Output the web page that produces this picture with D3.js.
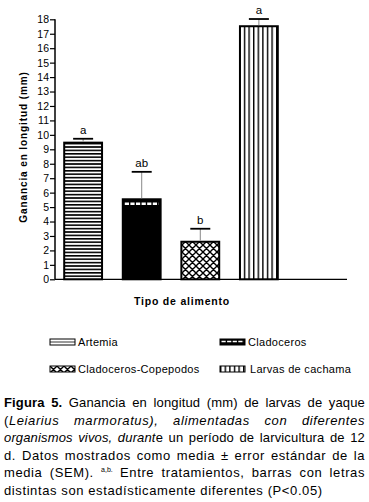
<!DOCTYPE html>
<html>
<head>
<meta charset="utf-8">
<script src="https://cdn.jsdelivr.net/npm/d3@7"></script>
<style>
  body { margin: 0; background: #fff; }
  #wrap { position: relative; width: 369px; height: 502px; overflow: hidden; }
  .cap { position: absolute; left: 4px; width: 361px; font-family: "Liberation Sans", Arial, sans-serif;
         font-size: 13px; letter-spacing: 0.6px; line-height: 17.5px; color: #000; text-align: justify; text-align-last: justify; white-space: nowrap; }
  .cap.last { text-align-last: left; }
  .cap.tight { letter-spacing: 0.15px; }
  .cap sup { font-size: 7px; letter-spacing: 0; vertical-align: 5px; line-height: 0; }
</style>
</head>
<body>
<div id="wrap"><svg id="chart"></svg></div>
<script>
(() => {

  const categories = ['Artemia', 'Cladoceros', 'Cladoceros-Copepodos', 'Larvas de cachama'];
  const means = [9.46, 5.54, 2.60, 17.52];
  const sem = [0.27, 1.9, 0.9, 0.5];
  const letters = ['a', 'ab', 'b', 'a'];
  const yTicks = d3.range(0, 19, 1);

  const svgWidth = 369;
  const svgHeight = 502;
  const font = '"Liberation Sans", Arial, sans-serif';

  const svg = d3.select('#chart')
    .attr('width', svgWidth)
    .attr('height', svgHeight)
    .style('position', 'absolute')
    .style('left', 0).style('top', 0);

  const defs = svg.append('defs');

  // horizontal lines (Artemia)
  const p0 = defs.append('pattern').attr('id', 'pat0')
    .attr('patternUnits', 'userSpaceOnUse').attr('width', 6).attr('height', 3.4);
  p0.append('rect').attr('width', 6).attr('height', 3.4).attr('fill', '#fff');
  p0.append('rect').attr('y', 0).attr('width', 6).attr('height', 1.6).attr('fill', '#000');

  // crosshatch (Cladoceros-Copepodos)
  const p2 = defs.append('pattern').attr('id', 'pat2')
    .attr('patternUnits', 'userSpaceOnUse').attr('width', 7).attr('height', 7);
  p2.append('rect').attr('width', 7).attr('height', 7).attr('fill', '#fff');
  p2.append('path').attr('d', 'M-1,-1L8,8M-1,8L8,-1M-4.5,2.5L2.5,-4.5M4.5,11.5L11.5,4.5M-4.5,4.5L2.5,11.5M4.5,-4.5L11.5,2.5')
    .attr('stroke', '#000').attr('stroke-width', 1.4);

  // vertical lines (Larvas de cachama)
  const p3 = defs.append('pattern').attr('id', 'pat3')
    .attr('patternUnits', 'userSpaceOnUse').attr('width', 4.6).attr('height', 6);
  p3.append('rect').attr('width', 4.6).attr('height', 6).attr('fill', '#fff');
  p3.append('rect').attr('x', 0).attr('width', 1.4).attr('height', 6).attr('fill', '#000');

  const fills = ['url(#pat0)', '#000', 'url(#pat2)', 'url(#pat3)'];

  const xScale = d3.scaleBand()
    .domain(categories)
    .range([55, 287])
    .paddingInner(0.32)
    .paddingOuter(0.14)
    .align(0.5);

  const yScale = d3.scaleLinear()
    .domain([0, 18])
    .range([279.3, 19.3]);

  // y axis
  const yAxis = svg.append('g')
    .attr('transform', 'translate(55,0)')
    .call(d3.axisLeft(yScale).tickValues(yTicks).tickSize(5).tickPadding(1).tickFormat(d3.format('d')));
  yAxis.select('.domain').attr('stroke-width', 1.5).attr('d', `M0,${yScale(18)}V${yScale(0)}`);
  yAxis.selectAll('.tick line').attr('stroke-width', 1.2);
  yAxis.selectAll('.tick text')
    .style('font-family', font).style('font-size', '10.5px').attr('fill', '#000');

  // x axis line
  svg.append('line')
    .attr('x1', 55).attr('x2', 347)
    .attr('y1', yScale(0)).attr('y2', yScale(0))
    .attr('stroke', '#000').attr('stroke-width', 1.2);

  // bars
  svg.selectAll('rect.bar')
    .data(categories)
    .enter()
    .append('rect')
    .attr('class', 'bar')
    .attr('x', d => xScale(d) + 1)
    .attr('width', xScale.bandwidth() - 2)
    .attr('y', (d, i) => yScale(means[i]))
    .attr('height', (d, i) => yScale(0) - yScale(means[i]))
    .attr('fill', (d, i) => fills[i])
    .attr('stroke', '#000')
    .attr('stroke-width', 2);

  // dotted white band under the top of the Cladoceros bar
  svg.append('line')
    .attr('x1', xScale(categories[1]) + 3)
    .attr('x2', xScale(categories[1]) + xScale.bandwidth() - 3)
    .attr('y1', yScale(means[1]) + 4.5)
    .attr('y2', yScale(means[1]) + 4.5)
    .attr('stroke', '#fff').attr('stroke-width', 2.6)
    .attr('stroke-dasharray', '4.2,1.4');

  // error bars (upper only)
  const cx = d => xScale(d) + xScale.bandwidth() / 2;
  svg.selectAll('line.stem')
    .data(categories)
    .enter()
    .append('line')
    .attr('x1', cx).attr('x2', cx)
    .attr('y1', (d, i) => yScale(means[i]) - 1)
    .attr('y2', (d, i) => yScale(means[i] + sem[i]))
    .attr('stroke', '#888').attr('stroke-width', 1);

  svg.selectAll('line.cap')
    .data(categories)
    .enter()
    .append('line')
    .attr('x1', d => cx(d) - 10).attr('x2', d => cx(d) + 10)
    .attr('y1', (d, i) => yScale(means[i] + sem[i]))
    .attr('y2', (d, i) => yScale(means[i] + sem[i]))
    .attr('stroke', '#000').attr('stroke-width', 1.8);

  svg.selectAll('text.letter')
    .data(categories)
    .enter()
    .append('text')
    .text((d, i) => letters[i])
    .attr('x', cx)
    .attr('y', (d, i) => yScale(means[i] + sem[i]) - 5)
    .attr('text-anchor', 'middle')
    .style('font-family', font).style('font-size', '11.5px');

  // axis titles
  svg.append('text')
    .text('Ganancia en longitud (mm)')
    .attr('transform', 'translate(27,147) rotate(-90)')
    .attr('text-anchor', 'middle')
    .style('font-family', font).style('font-size', '10px').style('font-weight', 'bold')
    .style('letter-spacing', '0.9px');

  svg.append('text')
    .text('Tipo de alimento')
    .attr('x', 182).attr('y', 305)
    .attr('text-anchor', 'middle')
    .style('font-family', font).style('font-size', '10.5px').style('font-weight', 'bold')
    .style('letter-spacing', '0.8px');

  // legend
  const legendX = [50, 220, 50, 220];
  const legendY = [339, 339, 366, 366];
  const legend = svg.selectAll('g.legend')
    .data(categories)
    .enter()
    .append('g')
    .attr('transform', (d, i) => `translate(${legendX[i]},${legendY[i]})`);

  legend.append('rect')
    .attr('width', 25).attr('height', 6)
    .attr('fill', (d, i) => i === 0 ? '#fff' : fills[i])
    .attr('stroke', '#000').attr('stroke-width', 1);
  legend.filter((d, i) => i === 0).append('line')
    .attr('x1', 0).attr('x2', 25).attr('y1', 3).attr('y2', 3)
    .attr('stroke', '#000').attr('stroke-width', 0.8);
  legend.filter((d, i) => i === 1).append('line')
    .attr('x1', 1.5).attr('x2', 24).attr('y1', 2.5).attr('y2', 2.5)
    .attr('stroke', '#fff').attr('stroke-width', 1.6)
    .attr('stroke-dasharray', '4.2,1.4');

  legend.append('text')
    .text(d => d)
    .attr('x', (d, i) => i === 3 ? 30 : 28)
    .attr('y', 7)
    .style('font-family', font).style('font-size', '11px')
    .style('letter-spacing', '0.3px');

  // caption
  const captionLines = [
    '<b>Figura 5.</b> Ganancia en longitud (mm) de larvas de yaque',
    '(<i>Leiarius marmoratus), alimentadas con diferentes</i>',
    '<i>organismos vivos, durant</i>e un período de larvicultura de 12',
    'd. Datos mostrados como media ± error estándar de la',
    'media (SEM). <sup>a,b.</sup> Entre tratamientos, barras con letras',
    'distintas son estadísticamente diferentes (P&lt;0.05)'
  ];
  const captionTop = [394, 411.5, 429, 446.5, 464, 481.5];

  d3.select('#wrap').selectAll('div.cap')
    .data(captionLines)
    .enter()
    .append('div')
    .attr('class', (d, i) => 'cap' + (i === captionLines.length - 1 ? ' last' : '') + (i === 2 || i === 0 ? ' tight' : ''))
    .style('top', (d, i) => captionTop[i] + 'px')
    .html(d => d);

})();
</script>
</body>
</html>
